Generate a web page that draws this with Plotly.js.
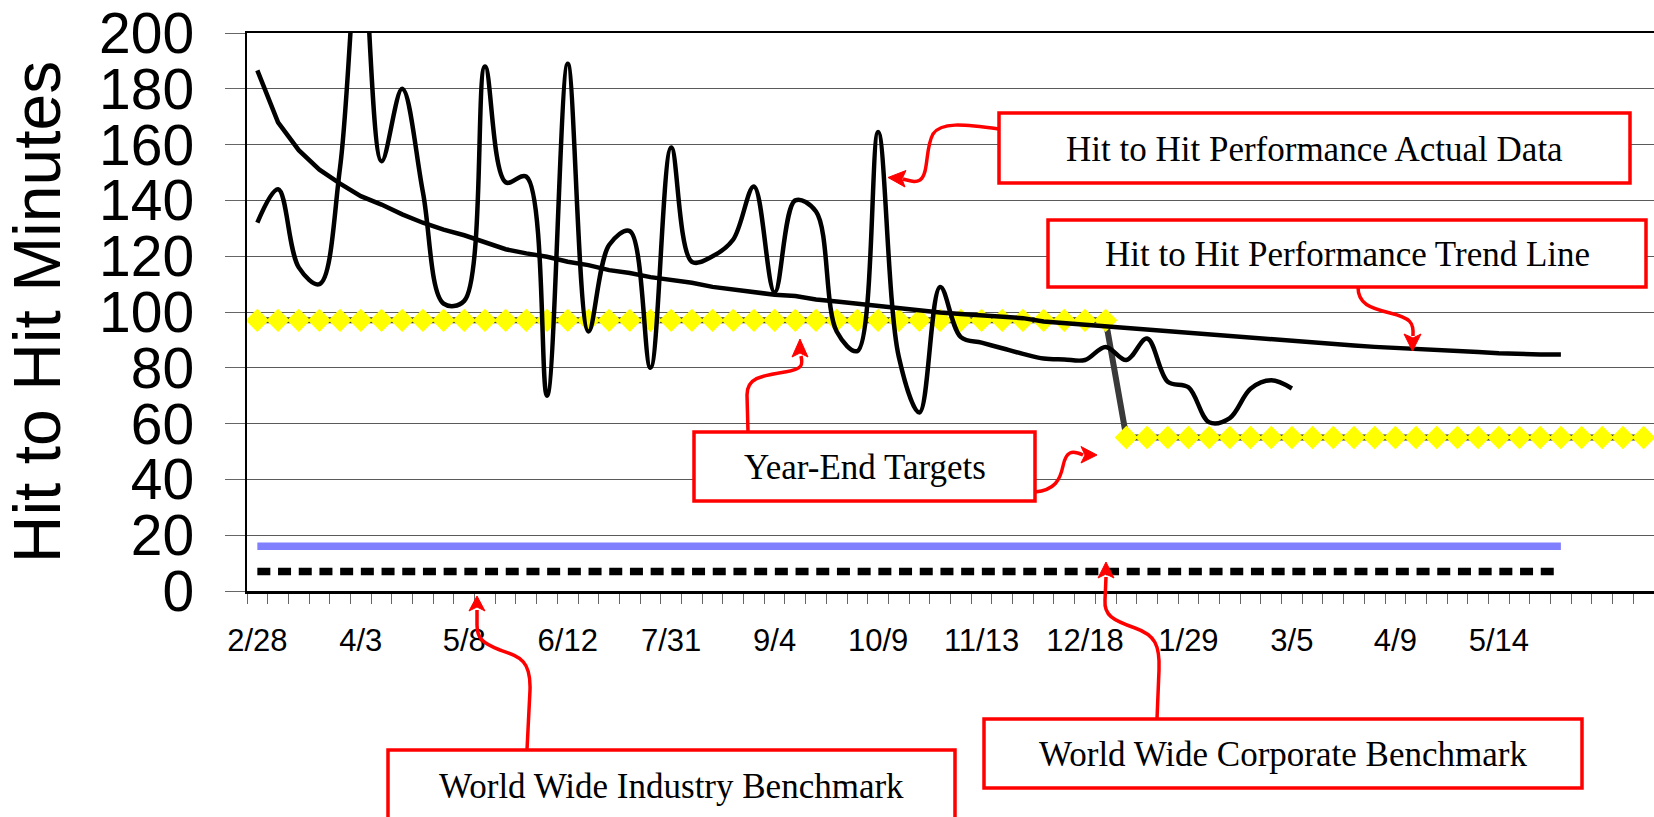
<!DOCTYPE html>
<html><head><meta charset="utf-8">
<script src="https://cdn.plot.ly/plotly-3.0.1.min.js"></script>
<style>html,body{margin:0;padding:0;background:#fff;overflow:hidden}#chart{width:1654px;height:817px}</style>
</head><body><div id="chart"></div>
<script>
// ---------- data ----------
const tickLabels = ['2/28','4/3','5/8','6/12','7/31','9/4','10/9','11/13','12/18','1/29','3/5','4/9','5/14'];
const labelEvery = 5;
const categoryCount = 68;

const actualData = [132,144,116,110,152,238,154,180,143,103,
                    104,188,146.5,148.5,70,189,93,124,129,80,
                    159,118,120,126,145,107,140,136,93,86,
                    164.5,84,64,109,91,89,87,85,83.3,83,
                    82.8,87.5,82.8,90.5,75,73,60.5,62,72.5,75.5,
                    72.6];

const trendLine = [186.6,168,158,151,146,141.5,138.5,135,132,129.5,
                   127.5,125,122.5,121,119.8,118,116.8,115,114,112.5,
                   111.5,110.5,109,108,107.2,106.2,105.7,104.5,103.8,103,
                   102,101.3,100.7,99.8,99.3,98.8,98.3,97.8,96.6,96,
                   95.4,94.9,94.2,93.6,93,92.6,91.8,91.2,90.6,90.1,
                   89.6,89.1,88.5,88,87.5,87.2,86.9,86.5,86.1,85.7,
                   85.2,84.9,84.8,84.8];

const yearEndTargets = [97,97,97,97,97,97,97,97,97,97,
                        97,97,97,97,97,97,97,97,97,97,
                        97,97,97,97,97,97,97,97,97,97,
                        97,97,97,97,97,97,97,97,97,97,
                        97,97,55,55,55,55,55,55,55,55,
                        55,55,55,55,55,55,55,55,55,55,
                        55,55,55,55,55,55,55,55];

const corporateBenchmark = [16,16,16,16,16,16,16,16,16,16,
                            16,16,16,16,16,16,16,16,16,16,
                            16,16,16,16,16,16,16,16,16,16,
                            16,16,16,16,16,16,16,16,16,16,
                            16,16,16,16,16,16,16,16,16,16,
                            16,16,16,16,16,16,16,16,16,16,
                            16,16,16,16];

const industryBenchmark = [7,7,7,7,7,7,7,7,7,7,
                           7,7,7,7,7,7,7,7,7,7,
                           7,7,7,7,7,7,7,7,7,7,
                           7,7,7,7,7,7,7,7,7,7,
                           7,7,7,7,7,7,7,7,7,7,
                           7,7,7,7,7,7,7,7,7,7,
                           7,7,7,7];

// ---------- layout helpers (pixel -> paper) ----------
const M = {l:247, r:0, t:33, b:226};
const W = 1654 - M.l - M.r, H = 817 - M.t - M.b;
const px = x => (x - M.l) / W;
const py = y => (M.t + H - y) / H;
const toPaper = s => s.replace(/(-?\d+\.?\d*),(-?\d+\.?\d*)/g, (m, a, b) => px(+a).toFixed(5) + ',' + py(+b).toFixed(5));

const idx = arr => arr.map((_, i) => i);
const RED = '#ff0000';

const traces = [
  {x: idx(corporateBenchmark), y: corporateBenchmark, mode: 'lines',
   line: {color: 'rgb(128,128,255)', width: 7.5}, hoverinfo: 'skip'},
  {x: idx(industryBenchmark), y: industryBenchmark, mode: 'lines',
   line: {color: '#000', width: 7.5, dash: '13px,7.7px'}, hoverinfo: 'skip'},
  {x: idx(yearEndTargets), y: yearEndTargets, mode: 'lines+markers',
   line: {color: '#3a3a3a', width: 6},
   marker: {symbol: 'diamond', size: 18, color: '#ffff00', line: {width: 0}}, hoverinfo: 'skip'},
  {x: idx(trendLine), y: trendLine, mode: 'lines',
   line: {color: '#000', width: 4.5}, hoverinfo: 'skip'},
  {x: idx(actualData), y: actualData, mode: 'lines',
   line: {color: '#000', width: 4.5, shape: 'spline', smoothing: 1}, hoverinfo: 'skip'}
];

// annotation boxes (pixel geometry)
const boxes = [
  {x0: 999, x1: 1630, y0: 113, y1: 183, text: 'Hit to Hit Performance Actual Data'},
  {x0: 1048, x1: 1646, y0: 220, y1: 287, text: 'Hit to Hit Performance Trend Line'},
  {x0: 694, x1: 1035, y0: 432, y1: 501, text: 'Year-End Targets'},
  {x0: 388, x1: 955, y0: 750, y1: 821, text: 'World Wide Industry Benchmark'},
  {x0: 984, x1: 1582, y0: 719, y1: 788, text: 'World Wide Corporate Benchmark'}
];

const connectors = [
  'M999,129 C962,124 941,122 933,134 C925,148 929,174 920,180 C915,183 911,181 903,179',
  'M1358,287 C1358,304 1370,308 1390,313 C1410,318 1414,322 1413,336',
  'M748,432 L747,395 C747,378 760,376 785,372 C803,369 803,365 801,356',
  'M1035,492 C1055,490 1060,480 1063,466 C1066,451 1072,450 1083,455',
  'M527,750 L530,690 C531,660 520,657 500,650 C482,643 477,638 477,625 L477,610',
  'M1157,719 L1159,670 C1160,645 1155,635 1135,628 C1112,620 1104,615 1105,600 L1106,577'
];
const heads = [
  'M888,177.5 L906,170.5 L902,179 L905,187 Z',
  'M1412.5,351 L1404,334 L1413,338 L1421,334 Z',
  'M800,339 L792,357 L800,353 L808,357 Z',
  'M1097,455 L1081,446.5 L1085,455 L1081,463 Z',
  'M477,596 L469,611 L477,607 L485,611 Z',
  'M1106,562 L1098,578 L1106,574 L1114,578 Z'
];

const shapes = [];
connectors.forEach(p => shapes.push({type: 'path', xref: 'paper', yref: 'paper', path: toPaper(p),
  line: {color: RED, width: 3.5}, layer: 'above'}));
heads.forEach(p => shapes.push({type: 'path', xref: 'paper', yref: 'paper', path: toPaper(p),
  fillcolor: RED, line: {color: RED, width: 1}, layer: 'above'}));
boxes.forEach(b => shapes.push({type: 'rect', xref: 'paper', yref: 'paper',
  x0: px(b.x0), x1: px(b.x1), y0: py(b.y1), y1: py(b.y0),
  line: {color: RED, width: 3.5}, fillcolor: '#ffffff', layer: 'above'}));

const annotations = boxes.map(b => ({
  xref: 'paper', yref: 'paper', x: px((b.x0 + b.x1) / 2), y: py((b.y0 + b.y1) / 2 + 1),
  xanchor: 'center', yanchor: 'middle', showarrow: false, text: b.text,
  font: {family: 'Liberation Serif, Times New Roman, serif', size: 35, color: '#000'}
}));

const layout = {
  width: 1654, height: 817, margin: M, paper_bgcolor: '#fff', plot_bgcolor: '#fff',
  showlegend: false,
  xaxis: {
    range: [-0.5, categoryCount - 0.5], showgrid: false, zeroline: false,
    tickmode: 'array', tickvals: tickLabels.map((_, i) => i * labelEvery), ticktext: tickLabels,
    ticks: '', tickfont: {family: 'Liberation Sans, Arial, sans-serif', size: 31, color: '#000'},
    ticklabelstandoff: 20,
    minor: {ticks: 'outside', ticklen: 10, tickcolor: '#666', tickwidth: 1, tick0: -0.5, dtick: 1, showgrid: false},
    showline: true, linecolor: '#000', linewidth: 2.5, mirror: true, fixedrange: true
  },
  yaxis: {
    range: [0, 200], tickmode: 'linear', tick0: 0, dtick: 20,
    showgrid: true, gridcolor: '#5a5a5a', gridwidth: 1, zeroline: false,
    ticks: 'outside', ticklen: 20, tickcolor: '#666', tickwidth: 1,
    tickfont: {family: 'Liberation Sans, Arial, sans-serif', size: 57, color: '#000'},
    ticklabelstandoff: 19,
    showline: true, linecolor: '#000', linewidth: 2.5, fixedrange: true,
    title: {text: 'Hit to Hit Minutes', font: {family: 'Liberation Sans, Arial, sans-serif', size: 66, color: '#000'}, standoff: 17}
  },
  shapes: shapes,
  annotations: annotations
};

Plotly.newPlot('chart', traces, layout, {displayModeBar: false, staticPlot: true});
</script>
</body></html>
